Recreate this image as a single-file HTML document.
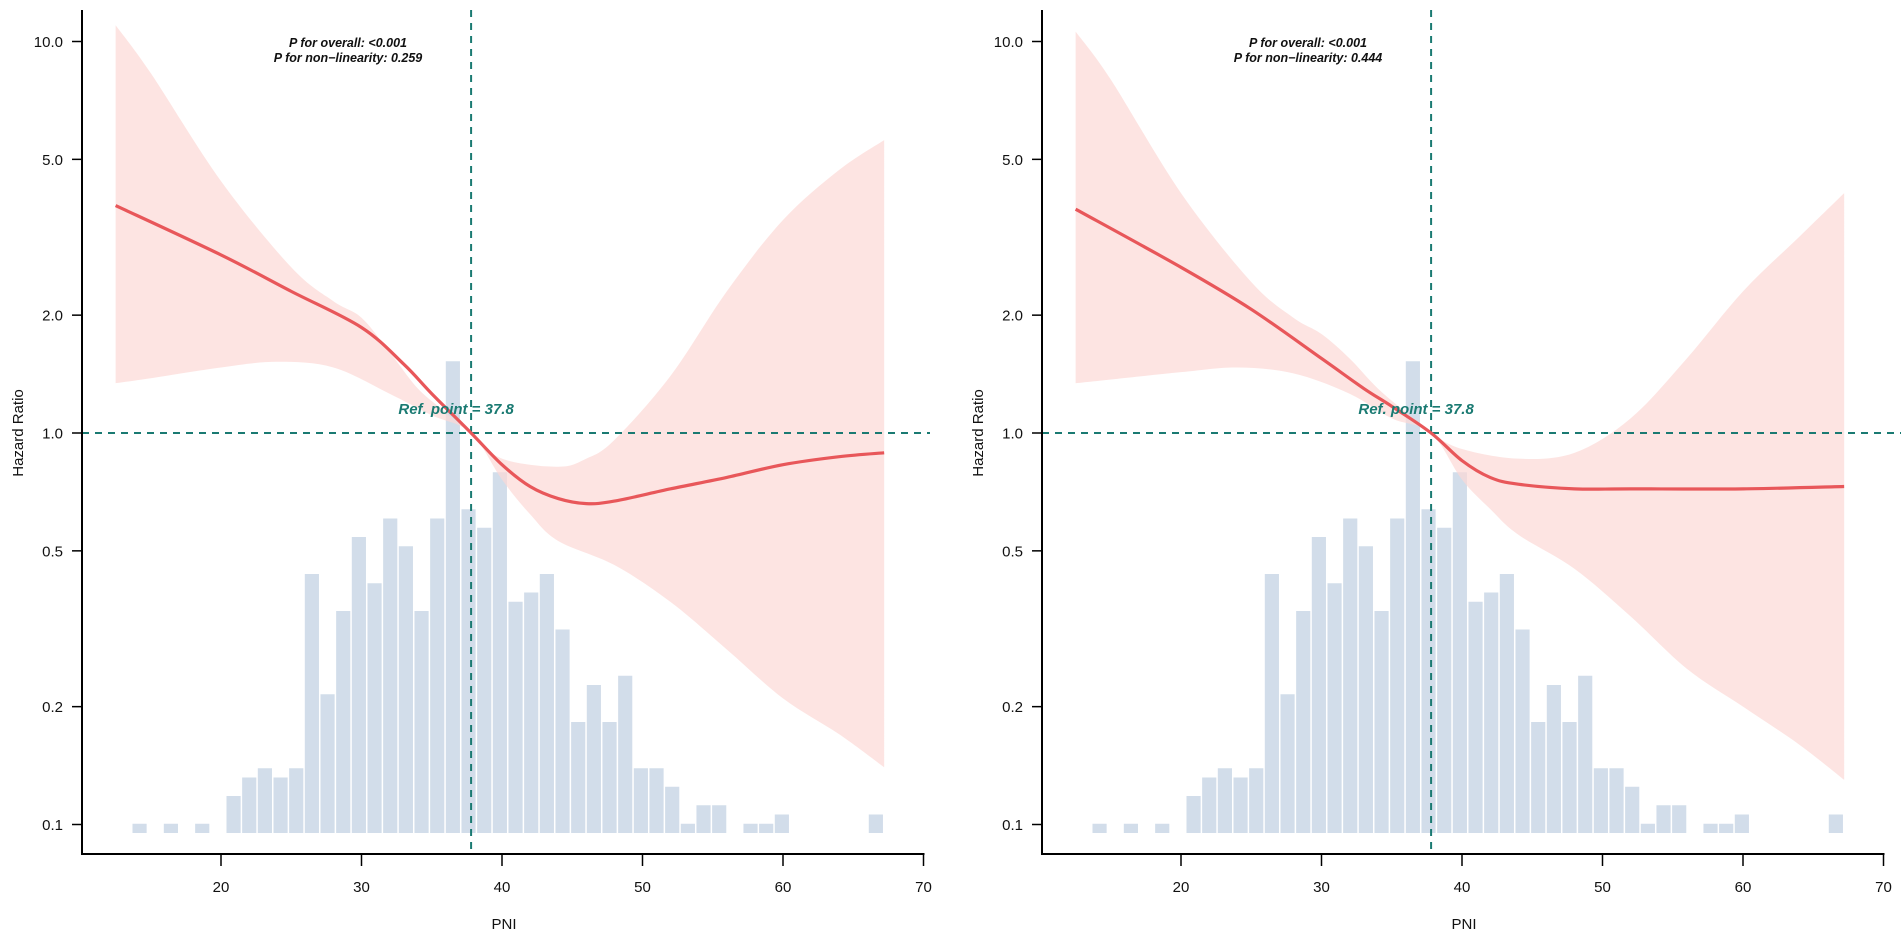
<!DOCTYPE html>
<html><head><meta charset="utf-8"><style>
html,body{margin:0;padding:0;background:#fff;}
svg{display:block;font-family:"Liberation Sans",Arial,sans-serif;}
</style></head><body>
<svg id="chart" width="1901" height="938" viewBox="0 0 1901 938"></svg>
<script>
const binStart = 13.7;
const binWidth = 1.115;
const binCounts = [1,0,1,0,1,0,4,6,7,6,7,28,15,24,32,27,34,31,24,34,51,35,33,39,25,26,28,22,12,16,12,17,7,7,5,1,3,3,0,1,1,2,0,0,0,0,0,2];
const xTicks = [20,30,40,50,60,70];
const yTicks = [0.1,0.2,0.5,1.0,2.0,5.0,10.0];
const yTickLabels = ["0.1","0.2","0.5","1.0","2.0","5.0","10.0"];
const refPoint = 37.8;

const leftX = [12.5,20,25,30,33,35,37.8,40,42,44,46,48,52,56,60,64,67.2];
const leftHR = [3.81,2.85,2.30,1.86,1.50,1.26,1.0,0.83,0.73,0.68,0.66,0.67,0.72,0.77,0.83,0.87,0.89];
const leftUpX = [12.5,15,20,25,28,30,32,34,36,37.8,40,44,46,48,52,56,60,64,67.2];
const leftUp = [11.0,8.3,4.4,2.65,2.17,1.97,1.61,1.30,1.13,1.0,0.86,0.82,0.86,0.96,1.40,2.3,3.5,4.7,5.6];
const leftLoX = [12.5,15,20,24,28,32,35,37.8,40,42,44,48,52,56,60,64,67.2];
const leftLo = [1.34,1.38,1.47,1.52,1.47,1.26,1.11,1.0,0.76,0.62,0.53,0.46,0.37,0.28,0.21,0.17,0.14];

const rightX = [12.5,20,25,30,33,35,37.8,40,42,44,48,52,60,67.2];
const rightHR = [3.73,2.65,2.07,1.55,1.30,1.17,1.0,0.85,0.77,0.74,0.72,0.72,0.72,0.73];
const rightUpX = [12.5,15,20,25,28,30,32,34,36,37.8,40,44,48,52,56,60,64,67.2];
const rightUp = [10.6,8.0,4.1,2.43,1.97,1.79,1.55,1.30,1.13,1.0,0.91,0.86,0.89,1.09,1.55,2.3,3.17,4.1];
const rightLoX = [12.5,20,24,28,32,35,37.8,40,42,44,48,52,56,60,64,67.2];
const rightLo = [1.34,1.43,1.47,1.42,1.26,1.09,1.0,0.76,0.64,0.55,0.45,0.34,0.25,0.20,0.16,0.13];

const panels = [
  {off:0, p:["P for overall: <0.001","P for non\u2212linearity: 0.259"], cx:leftX, cy:leftHR, ux:leftUpX, uy:leftUp, lx:leftLoX, ly:leftLo, hEnd:930},
  {off:960, p:["P for overall: <0.001","P for non\u2212linearity: 0.444"], cx:rightX, cy:rightHR, ux:rightUpX, uy:rightUp, lx:rightLoX, ly:rightLo, hEnd:1901}
];
const NS="http://www.w3.org/2000/svg";
const svg=document.getElementById('chart');
function el(t,a,parent){const e=document.createElementNS(NS,t);for(const k in a)e.setAttribute(k,a[k]);(parent||svg).appendChild(e);return e;}
const yS=v=>433-Math.log10(v)*391.5;
const barBase=833, countPx=9.25;
function smooth(pts){
  let d="M"+pts[0][0]+","+pts[0][1];
  for(let i=0;i<pts.length-1;i++){
    const p0=pts[Math.max(0,i-1)],p1=pts[i],p2=pts[i+1],p3=pts[Math.min(pts.length-1,i+2)];
    const c1x=p1[0]+(p2[0]-p0[0])/6,c1y=p1[1]+(p2[1]-p0[1])/6;
    const c2x=p2[0]-(p3[0]-p1[0])/6,c2y=p2[1]-(p3[1]-p1[1])/6;
    d+=" C"+c1x+","+c1y+" "+c2x+","+c2y+" "+p2[0]+","+p2[1];
  }
  return d;
}
panels.forEach((P,pi)=>{
  const xS=v=>221+P.off+(v-20)*14.05;
  const g=el('g',{});
  
  
  binCounts.forEach((c,i)=>{
    if(c<=0)return;
    const x0=xS(binStart+i*binWidth), x1=xS(binStart+(i+1)*binWidth);
    const r=el('rect',{x:x0,y:barBase-c*countPx,width:x1-x0-1.5,height:c*countPx,fill:'#d2ddea'},g);
    
    
  });
  const up=P.ux.map((v,i)=>[xS(v),yS(P.uy[i])]);
  const lo=P.lx.map((v,i)=>[xS(v),yS(P.ly[i])]).reverse();
  const dUp=smooth(up), dLo=smooth(lo).replace(/^M/,' L');
  const band=el('path',{d:dUp+dLo+' Z',fill:'#fcd9d6','fill-opacity':'0.7'},g);
  
  
  const vl=el('line',{x1:xS(refPoint),x2:xS(refPoint),y1:10,y2:854,stroke:'#1a7a72','stroke-width':2,'stroke-dasharray':'7,6'},g);
  
  
  const hl=el('line',{x1:82+P.off,x2:P.hEnd,y1:yS(1),y2:yS(1),stroke:'#1a7a72','stroke-width':2,'stroke-dasharray':'7,6'},g);
  
  
  const cv=el('path',{d:smooth(P.cx.map((v,i)=>[xS(v),yS(P.cy[i])])),fill:'none',stroke:'#e8575a','stroke-width':3.2},g);
  
  
  const ya=el('line',{x1:82+P.off,x2:82+P.off,y1:10,y2:855,stroke:'#000','stroke-width':2},g);
  
  
  const xa=el('line',{x1:81+P.off,x2:xS(70)+1,y1:854,y2:854,stroke:'#000','stroke-width':2},g);
  
  
  xTicks.forEach(t=>{
    el('line',{x1:xS(t),x2:xS(t),y1:854,y2:866,stroke:'#000','stroke-width':1.5},g);
    const tx=el('text',{x:xS(t),y:892,'font-size':15,'text-anchor':'middle',fill:'#111'},g);
    tx.textContent=t;
    
    
  });
  yTicks.forEach((t,i)=>{
    el('line',{x1:72+P.off,x2:82+P.off,y1:yS(t),y2:yS(t),stroke:'#000','stroke-width':1.5},g);
    const tx=el('text',{x:63+P.off,y:yS(t)+5.5,'font-size':15,'text-anchor':'end',fill:'#111'},g);
    tx.textContent=yTickLabels[i];
    
    
  });
  const xt=el('text',{x:xS(40)+2,y:929,'font-size':15,'text-anchor':'middle',fill:'#111'},g);
  xt.textContent='PNI';
  
  
  const yt=el('text',{x:0,y:0,'font-size':15,'text-anchor':'middle',fill:'#111',transform:'translate('+(23+P.off)+',433) rotate(-90)'},g);
  yt.textContent='Hazard Ratio';
  
  
  P.p.forEach((s,i)=>{
    const t=el('text',{x:348+P.off,y:47+i*15,'font-size':12.5,'font-weight':'bold','font-style':'italic','text-anchor':'middle',fill:'#111'},g);
    t.textContent=s;
    
    
  });
  const rl=el('text',{x:xS(refPoint)-15,y:414,'font-size':15,'font-weight':'bold','font-style':'italic','text-anchor':'middle',fill:'#1a7a72'},g);
  rl.textContent='Ref. point = 37.8';
  
  
});
</script>
</body></html>
